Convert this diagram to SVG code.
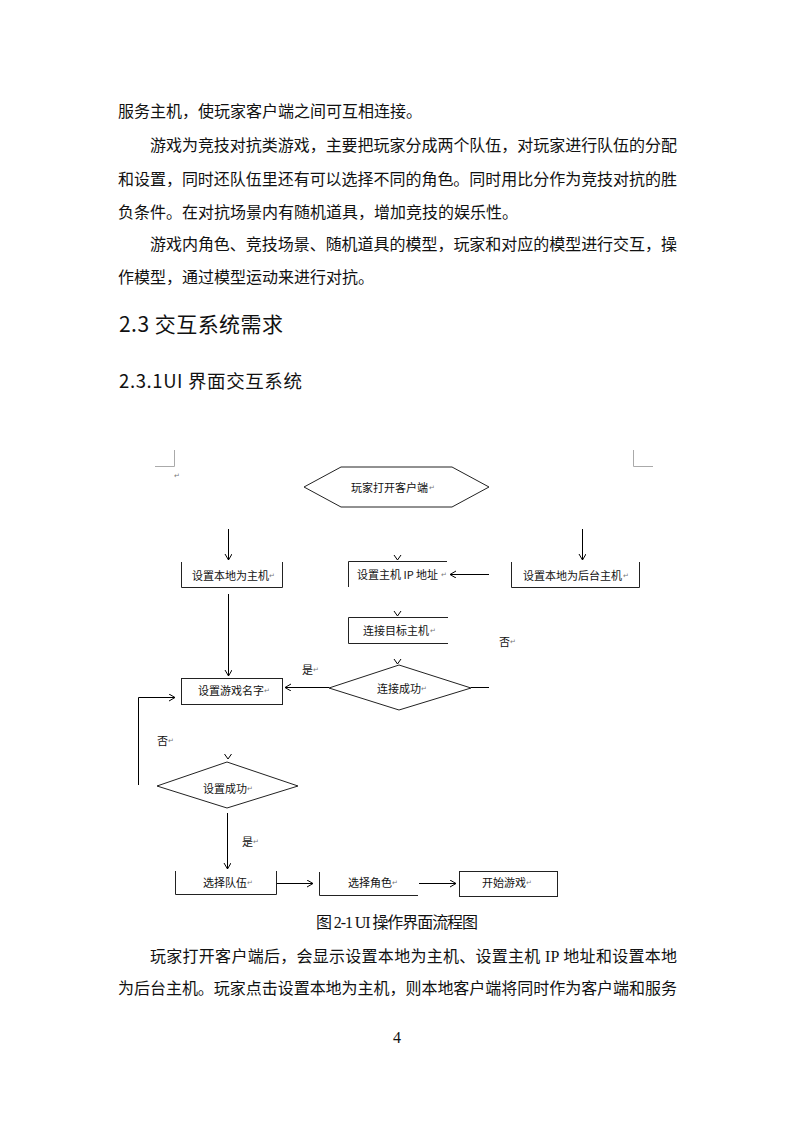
<svg xmlns="http://www.w3.org/2000/svg" width="793" height="1122" viewBox="0 0 793 1122">
<style>
.body{font-family:"Liberation Serif","Noto Sans CJK SC",serif;font-size:16px;fill:#111;dominant-baseline:central}
.h{font-family:"Noto Sans CJK SC",sans-serif;fill:#111;dominant-baseline:central}
.lbl{font-family:"Noto Sans CJK SC",sans-serif;font-size:11px;fill:#111;dominant-baseline:central}
.pm{font-family:"DejaVu Sans",sans-serif;font-size:7px;fill:#777;dominant-baseline:central}
.ln{fill:none;stroke:#000;stroke-width:1}
.sh{fill:none;stroke:#222;stroke-width:1}
.mark{fill:none;stroke:#aaa;stroke-width:1}
</style>
<defs>
<marker id="arr" markerUnits="userSpaceOnUse" markerWidth="10" markerHeight="10" refX="6" refY="3.5" orient="auto">
<path d="M0,0 L6,3.5 L0,7" fill="none" stroke="#000" stroke-width="1"/>
</marker>
</defs>
<rect width="793" height="1122" fill="#fff"/>

<g id="body-top">
<text class="body" x="118" y="111">服务主机，使玩家客户端之间可互相连接。</text>
<text class="body" x="150" y="145" textLength="527">游戏为竞技对抗类游戏，主要把玩家分成两个队伍，对玩家进行队伍的分配</text>
<text class="body" x="118" y="179" textLength="559">和设置，同时还队伍里还有可以选择不同的角色。同时用比分作为竞技对抗的胜</text>
<text class="body" x="118" y="212">负条件。在对抗场景内有随机道具，增加竞技的娱乐性。</text>
<text class="body" x="150" y="244" textLength="527">游戏内角色、竞技场景、随机道具的模型，玩家和对应的模型进行交互，操</text>
<text class="body" x="118" y="277">作模型，通过模型运动来进行对抗。</text>
</g>

<g id="headings">
<text class="h" x="119" y="323" font-size="21" textLength="164">2.3 交互系统需求</text>
<text class="h" x="119" y="380" font-size="18.5" textLength="183">2.3.1UI 界面交互系统</text>
</g>

<g id="page-marks">
<path class="mark" d="M174.5,450 V466.5 H155"/>
<path class="mark" d="M633.5,450 V466.5 H653"/>
<text class="pm" x="174" y="476">↵</text>
</g>

<g id="n-start">
<polygon class="sh" points="304,487 341,467 452,467 489,487 452,507 341,507"/>
<text class="lbl" x="351" y="487">玩家打开客户端</text><text class="pm" x="429" y="488">↵</text>
</g>

<g id="n-host">
<path class="sh" d="M181.5,562 V587.5 H282.5 V562"/>
<text class="lbl" x="192" y="575">设置本地为主机</text><text class="pm" x="269" y="576">↵</text>
</g>

<g id="n-ip">
<path class="sh" d="M348.5,587 V561.5 H447"/>
<text class="lbl" x="357" y="574">设置主机 IP 地址</text><text class="pm" x="441" y="575">↵</text>
</g>

<g id="n-server">
<path class="sh" d="M511.5,562 V587.5 H639.5 V562"/>
<text class="lbl" x="523" y="575">设置本地为后台主机</text><text class="pm" x="623" y="576">↵</text>
</g>

<g id="n-connect">
<path class="sh" d="M448,617.5 H348.5 V643.5 H448"/>
<text class="lbl" x="363" y="630">连接目标主机</text><text class="pm" x="430" y="631">↵</text>
</g>

<g id="n-connected">
<polygon class="sh" points="329,688 399,665 471,688 399,710"/>
<text class="lbl" x="377" y="688">连接成功</text><text class="pm" x="421" y="689">↵</text>
</g>

<g id="n-name">
<rect class="sh" x="181.5" y="678.5" width="101" height="26"/>
<text class="lbl" x="198" y="690">设置游戏名字</text><text class="pm" x="264" y="691">↵</text>
</g>

<g id="n-set-ok">
<polygon class="sh" points="157,786 227,762 298,786 227,808"/>
<text class="lbl" x="203" y="788">设置成功</text><text class="pm" x="247" y="789">↵</text>
</g>

<g id="n-team">
<path class="sh" d="M175.5,871 V894.5 H276.5 V871"/>
<text class="lbl" x="203" y="882">选择队伍</text><text class="pm" x="247" y="883">↵</text>
</g>

<g id="n-role">
<path class="sh" d="M319.5,872 V895.5 H418"/>
<text class="lbl" x="348" y="882">选择角色</text><text class="pm" x="392" y="883">↵</text>
</g>

<g id="n-begin">
<rect class="sh" x="459.5" y="871.5" width="98" height="25"/>
<text class="lbl" x="482" y="882">开始游戏</text><text class="pm" x="526" y="883">↵</text>
</g>

<g id="labels">
<text class="lbl" x="302" y="669">是</text><text class="pm" x="313" y="670">↵</text>
<text class="lbl" x="499" y="641">否</text><text class="pm" x="510" y="642">↵</text>
<text class="lbl" x="157" y="740">否</text><text class="pm" x="168" y="741">↵</text>
<text class="lbl" x="242" y="841">是</text><text class="pm" x="253" y="842">↵</text>
</g>

<g id="connectors">
<line class="ln" x1="228.5" y1="529" x2="228.5" y2="560" marker-end="url(#arr)"/>
<line class="ln" x1="582.5" y1="529" x2="582.5" y2="560" marker-end="url(#arr)"/>
<path class="ln" d="M394,555 L397.5,560 L401,555"/>
<line class="ln" x1="489" y1="574.5" x2="450" y2="574.5" marker-end="url(#arr)"/>
<path class="ln" d="M394,611 L397.5,616 L401,611"/>
<path class="ln" d="M394,659 L397.5,664 L401,659"/>
<line class="ln" x1="228.5" y1="594" x2="228.5" y2="676" marker-end="url(#arr)"/>
<line class="ln" x1="329" y1="687.5" x2="285" y2="687.5" marker-end="url(#arr)"/>
<line class="ln" x1="471" y1="687.5" x2="489" y2="687.5"/>
<path class="ln" d="M138.5,785 V697.5 H175" marker-end="url(#arr)"/>
<path class="ln" d="M224.5,754 L228,759 L231.5,754"/>
<line class="ln" x1="227.5" y1="813" x2="227.5" y2="869" marker-end="url(#arr)"/>
<line class="ln" x1="277" y1="883.5" x2="313" y2="883.5" marker-end="url(#arr)"/>
<line class="ln" x1="419" y1="883.5" x2="456" y2="883.5" marker-end="url(#arr)"/>
</g>

<g id="body-bottom">
<text class="body" x="316" y="922" font-size="13" textLength="162">图 2-1 UI 操作界面流程图</text>
<text class="body" x="150" y="956" textLength="527">玩家打开客户端后，会显示设置本地为主机、设置主机 IP 地址和设置本地</text>
<text class="body" x="118" y="988" textLength="559">为后台主机。玩家点击设置本地为主机，则本地客户端将同时作为客户端和服务</text>
<text class="body" x="397" y="1037" font-size="12" text-anchor="middle">4</text>
</g>
</svg>
